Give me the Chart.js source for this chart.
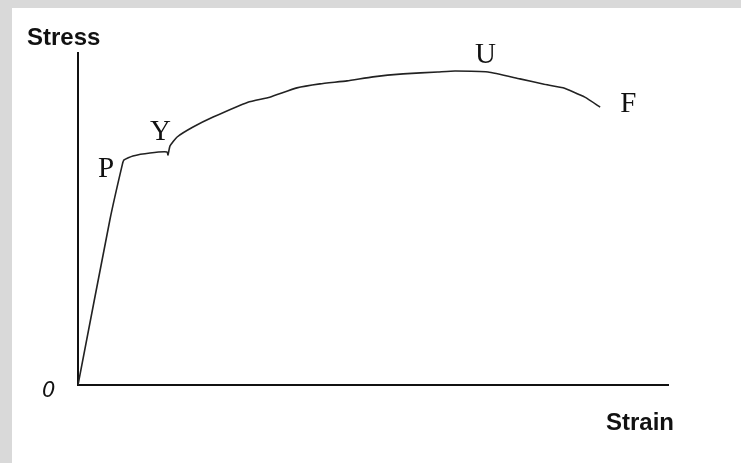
<!DOCTYPE html>
<html>
<head>
<meta charset="utf-8">
<script src="https://cdn.jsdelivr.net/npm/chart.js@4.4.1/dist/chart.umd.min.js"></script>
<style>
  html, body { margin: 0; padding: 0; }
  body { background: #d9d9d9; width: 741px; height: 463px; overflow: hidden; position: relative; }
  #wrap { position: absolute; left: 12px; top: 8px; width: 729px; height: 455px; background: #fff; }
</style>
</head>
<body>
<div id="wrap"><canvas id="stressChart"></canvas></div>
<script>
// stress-strain curve (arbitrary units 0..100)
const strain = [0, 5.4, 7.5, 7.8, 9.3, 12.2, 15.1, 15.25, 15.6, 16.8, 19.5, 22.9, 28.8, 32.5, 37.1, 41.0, 45.6, 50.0, 55.1, 61.0, 63.9, 69.5, 74.9, 79.0, 82.2, 85.9, 88.5];
const stress = [0, 49.7, 66.3, 67.8, 69.0, 69.9, 70.2, 69.3, 72.0, 74.7, 77.7, 80.7, 85.2, 86.7, 89.5, 90.7, 91.6, 92.8, 93.7, 94.3, 94.6, 94.3, 92.2, 90.6, 89.5, 86.7, 83.7];

// point labels: letter + index of the point it belongs to
const pointNames = ['P', 'Y', 'U', 'F'];
const pointIdx = [3, 6, 21, 26];

const axisLabels = { y: 'Stress', x: 'Strain', origin: '0' };

const points = strain.map((s, i) => ({ x: s, y: stress[i] }));

// label offsets from their point (px)
const nameOffset = { P: [-26, 17], Y: [-17, -12], U: [-13, -9], F: [20, 5] };

const textPlugin = {
  id: 'textPlugin',
  afterDraw(chart) {
    const ctx = chart.ctx;
    const a = chart.chartArea;
    const xs = chart.scales.x, ys = chart.scales.y;
    ctx.save();
    ctx.fillStyle = '#111';
    ctx.textAlign = 'left';
    ctx.textBaseline = 'alphabetic';

    ctx.font = 'bold 24px "Liberation Sans", Arial, sans-serif';
    ctx.fillText(axisLabels.y, a.left - 51, a.top - 8);
    ctx.fillText(axisLabels.x, a.right - 62, a.bottom + 45);

    ctx.font = 'italic 21px "DejaVu Sans", sans-serif';
    ctx.fillText(axisLabels.origin, a.left - 36, a.bottom + 12);

    ctx.font = '29px "Liberation Serif", "Times New Roman", serif';
    pointNames.forEach((n, k) => {
      const i = pointIdx[k];
      const px = xs.getPixelForValue(strain[i]);
      const py = ys.getPixelForValue(stress[i]);
      ctx.fillText(n, px + nameOffset[n][0], py + nameOffset[n][1]);
    });
    ctx.restore();
  }
};

new Chart(document.getElementById('stressChart'), {
  type: 'line',
  data: {
    datasets: [{
      data: points,
      borderColor: '#222',
      borderWidth: 1.6,
      pointRadius: 0,
      tension: 0.15,
      fill: false
    }]
  },
  options: {
    responsive: true,
    maintainAspectRatio: false,
    animation: false,
    layout: { padding: { left: 58, right: 73, top: 45, bottom: 70 } },
    plugins: { legend: { display: false }, tooltip: { enabled: false } },
    scales: {
      x: {
        type: 'linear', min: 0, max: 100,
        grid: { display: false },
        ticks: { display: false },
        border: { display: true, color: '#111', width: 2 }
      },
      y: {
        type: 'linear', min: 0, max: 100,
        grid: { display: false },
        ticks: { display: false },
        border: { display: true, color: '#111', width: 2 }
      }
    }
  },
  plugins: [textPlugin]
});
</script>
</body>
</html>
